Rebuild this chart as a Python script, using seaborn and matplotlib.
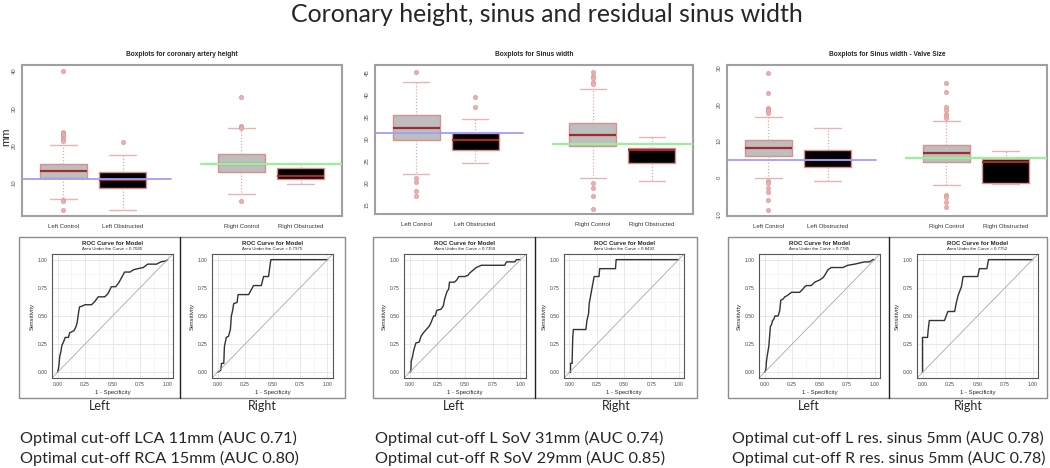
import numpy as np
import matplotlib
matplotlib.use("Agg")
import matplotlib.pyplot as plt
import seaborn as sns
import pandas as pd
from matplotlib.patches import Rectangle
from matplotlib.lines import Line2D

# ---------------- data ----------------
groups = ["Left Control", "Left Obstructed", "Right Control", "Right Obstructed"]
group_pos = [1, 2, 4, 5]

# coronary artery height (mm)
height_q1 = [11.2, 8.65, 12.95, 11.0]
height_med = [13.05, 10.6, 15.0, 11.7]
height_q3 = [14.85, 12.9, 17.55, 13.85]
height_lo = [5.7, 2.5, 6.85, 9.7]
height_hi = [20.0, 17.4, 24.55, 14.85]
height_fliers = [[40.0, 23.7, 23.4, 23.0, 22.6, 22.1, 21.6, 21.2, 5.3, 5.1, 2.7],
                 [20.8], [33.1, 25.2, 24.9, 24.7, 5.15], []]
height_cut = [11, 15]

# sinus width (mm)
sinus_q1 = [29.65, 27.4, 28.35, 24.4]
sinus_med = [32.4, 29.65, 30.85, 27.25]
sinus_q3 = [35.4, 31.25, 33.5, 27.85]
sinus_lo = [21.95, 24.4, 21.05, 20.2]
sinus_hi = [42.9, 34.3, 41.1, 30.25]
sinus_fliers = [[45.0, 21.0, 20.0, 18.0, 17.0], [37.1, 39.4],
                [45.1, 44.2, 43.6, 42.9, 42.3, 19.8, 18.6, 17.0, 13.9], []]
sinus_cut = [31.3, 28.7]

# sinus width - valve size (mm)
resid_q1 = [6.0, 3.0, 4.4, -1.6]
resid_med = [8.1, 4.9, 6.6, 4.2]
resid_q3 = [10.2, 7.6, 8.8, 5.1]
resid_lo = [0.0, -0.9, -2.0, -1.8]
resid_hi = [16.6, 13.6, 15.5, 7.4]
resid_fliers = [[28.7, 23.2, 19.1, 18.7, 18.4, 18.2, 17.8, -1.0, -1.5, -2.8, -3.9, -6.0, -8.9],
                [], [25.8, 23.5, 19.4, 18.4, 17.5, 16.9, 16.2, -4.8, -5.3, -6.7, -8.0], []]
resid_cut = [4.9, 5.4]

# ROC curves (1 - specificity, sensitivity)
roc1_left_fpr = [0, 0.01, 0.015, 0.02, 0.03, 0.04, 0.055, 0.07, 0.1, 0.11, 0.13, 0.15, 0.17, 0.18,
                 0.19, 0.2, 0.23, 0.25, 0.31, 0.34, 0.37, 0.43, 0.46, 0.49, 0.53, 0.56, 0.61, 0.66,
                 0.69, 0.73, 0.78, 0.82, 0.9, 0.94, 0.99, 1]
roc1_left_tpr = [0, 0.04, 0.08, 0.14, 0.18, 0.24, 0.27, 0.31, 0.31, 0.35, 0.36, 0.37, 0.41, 0.45,
                 0.52, 0.58, 0.59, 0.6, 0.6, 0.63, 0.67, 0.67, 0.7, 0.76, 0.76, 0.8, 0.89, 0.89,
                 0.91, 0.92, 0.93, 0.96, 0.96, 0.98, 0.99, 1]
roc1_right_fpr = [0, 0.03, 0.036, 0.057, 0.063, 0.08, 0.1, 0.117, 0.126, 0.138, 0.147, 0.178, 0.187,
                  0.283, 0.328, 0.398, 0.419, 0.464, 0.485, 1]
roc1_right_tpr = [0, 0.02, 0.08, 0.08, 0.23, 0.31, 0.32, 0.38, 0.5, 0.55, 0.61, 0.62, 0.69,
                  0.69, 0.77, 0.77, 0.85, 0.85, 1.0, 1]
roc2_left_fpr = [0, 0.012, 0.015, 0.027, 0.036, 0.048, 0.057, 0.088, 0.103, 0.124, 0.142, 0.178,
                 0.193, 0.217, 0.232, 0.245, 0.284, 0.305, 0.314, 0.335, 0.353, 0.36, 0.405, 0.426,
                 0.444, 0.496, 0.526, 0.541, 0.577, 0.601, 0.647, 0.662, 0.858, 0.873, 0.949, 0.964, 1]
roc2_left_tpr = [0, 0.01, 0.1, 0.14, 0.19, 0.23, 0.26, 0.27, 0.32, 0.35, 0.37, 0.41,
                 0.44, 0.5, 0.5, 0.55, 0.56, 0.59, 0.64, 0.71, 0.74, 0.8, 0.8, 0.82,
                 0.85, 0.85, 0.86, 0.88, 0.91, 0.93, 0.95, 0.95, 0.95, 0.98, 0.98, 1.0, 1]
roc2_right_fpr = [0, 0.01, 0.01, 0.024, 0.03, 0.036, 0.151, 0.16, 0.175, 0.181, 0.196, 0.211, 0.226,
                  0.271, 0.277, 0.422, 0.428, 1]
roc2_right_tpr = [0, 0, 0.08, 0.08, 0.31, 0.38, 0.38, 0.46, 0.52, 0.61, 0.69, 0.77, 0.85,
                  0.85, 0.92, 0.92, 1.0, 1]
roc3_left_fpr = [0, 0.012, 0.018, 0.027, 0.039, 0.054, 0.063, 0.073, 0.085, 0.094, 0.124, 0.139,
                 0.148, 0.169, 0.184, 0.205, 0.245, 0.32, 0.35, 0.366, 0.381, 0.426, 0.456, 0.502,
                 0.517, 0.532, 0.547, 0.577, 0.592, 0.607, 0.713, 0.758, 0.819, 0.909, 0.955, 0.985, 1]
roc3_left_tpr = [0, 0.02, 0.1, 0.16, 0.23, 0.41, 0.42, 0.46, 0.47, 0.5, 0.5, 0.55,
                 0.64, 0.65, 0.67, 0.68, 0.71, 0.71, 0.74, 0.76, 0.77, 0.77, 0.8, 0.82,
                 0.83, 0.84, 0.86, 0.91, 0.92, 0.93, 0.93, 0.95, 0.96, 0.98, 0.98, 1.0, 1]
roc3_right_fpr = [0, 0, 0.046, 0.052, 0.062, 0.2, 0.231, 0.292, 0.308, 0.323, 0.354, 0.369, 0.502,
                  0.517, 0.585, 0.6, 1]
roc3_right_tpr = [0, 0.31, 0.31, 0.38, 0.46, 0.46, 0.54, 0.54, 0.62, 0.68, 0.76, 0.85, 0.85,
                  0.92, 0.92, 1.0, 1]
roc_auc = ["0.7085", "0.7975", "0.7350", "0.8492", "0.7785", "0.7752"]

cutoff_text = [
    ["Optimal cut-off LCA 11mm (AUC 0.71)", "Optimal cut-off RCA 15mm (AUC 0.80)"],
    ["Optimal cut-off L SoV 31mm (AUC 0.74)", "Optimal cut-off R SoV 29mm (AUC 0.85)"],
    ["Optimal cut-off L res. sinus 5mm (AUC 0.78)", "Optimal cut-off R res. sinus 5mm (AUC 0.78)"],
]

# ---------------- drawing ----------------
sns.set_style("white")
plt.rcParams["font.family"] = ["Liberation Sans", "DejaVu Sans"]
big_font = ["Lato", "DejaVu Sans"]

W, H = 1050, 468
fig = plt.figure(figsize=(W / 100, H / 100), dpi=100)


def px_axes(x0, y0, x1, y1):
    # axes from pixel box (top-left origin)
    return fig.add_axes([x0 / W, 1 - y1 / H, (x1 - x0) / W, (y1 - y0) / H])


def boxpanel(box, title, q1, med, q3, lo, hi, fliers, cuts, ylim, yticks):
    ax = px_axes(*box)
    stats = []
    for i in range(4):
        stats.append(dict(med=med[i], q1=q1[i], q3=q3[i], whislo=lo[i], whishi=hi[i], fliers=fliers[i]))
    bp = ax.bxp(stats, positions=group_pos, widths=0.8, capwidths=0.45, patch_artist=True,
                showfliers=True)
    fills = ["#bebebe", "black", "#bebebe", "black"]
    for i, patch in enumerate(bp["boxes"]):
        patch.set_facecolor(fills[i])
        patch.set_edgecolor("#d89090")
        patch.set_linewidth(1.0)
    for m in bp["medians"]:
        m.set_color("#a52a2a")
        m.set_linewidth(1.6)
    for w in bp["whiskers"]:
        w.set_color("#e4a8a8")
        w.set_linestyle((0, (1, 1.5)))
        w.set_linewidth(0.9)
    for c in bp["caps"]:
        c.set_color("#e8b4b4")
        c.set_linewidth(1.0)
    for f in bp["fliers"]:
        f.set_marker("o")
        f.set_markersize(3)
        f.set_markerfacecolor("#eab0b0")
        f.set_markeredgecolor("#e09a9a")
        f.set_markeredgewidth(0.5)
    ax.axhline(cuts[0], xmin=0, xmax=0.465, color="#9e9eff", lw=1.3, zorder=5)
    ax.axhline(cuts[1], xmin=0.56, xmax=1, color="#98f098", lw=1.6, zorder=5)
    ax.set_xlim(0.3, 5.7)
    ax.set_ylim(*ylim)
    ax.set_xticks(group_pos)
    ax.set_xticklabels(groups, fontsize=4.3, color="#333333")
    ax.set_yticks(yticks)
    ax.set_yticklabels([str(t) for t in yticks], fontsize=4.3, rotation=90, va="center", color="#555555")
    ax.tick_params(length=2, width=0.5, color="#666666", pad=2)
    ax.tick_params(axis="x", pad=4)
    for s in ax.spines.values():
        s.set_color("#a0a0a0")
        s.set_linewidth(1.5)
    cx = (box[0] + box[2]) / 2 / W
    fig.text(cx, 1 - 55 / H, title, ha="center", va="center", fontsize=4.8, fontweight="bold")
    return ax


def rocpanel(box, fpr, tpr, auc):
    ax = px_axes(*box)
    sns.lineplot(x=fpr, y=tpr, ax=ax, sort=False, estimator=None, color="#333333", lw=1.0)
    ax.axline((0, 0), slope=1, color="#a8a8a8", lw=0.6)
    ax.set_xlim(-0.05, 1.05)
    ax.set_ylim(-0.05, 1.05)
    ticks = [0, 0.25, 0.5, 0.75, 1.0]
    ax.set_xticks(ticks)
    ax.set_yticks(ticks)
    ax.set_xticklabels(["0.00", "0.25", "0.50", "0.75", "1.00"], fontsize=3.6, color="#444444")
    ax.set_yticklabels(["0.00", "0.25", "0.50", "0.75", "1.00"], fontsize=3.6, color="#444444")
    ax.set_xticks([0.125, 0.375, 0.625, 0.875], minor=True)
    ax.set_yticks([0.125, 0.375, 0.625, 0.875], minor=True)
    ax.grid(True, which="major", color="#e4e4e4", lw=0.6)
    ax.grid(True, which="minor", color="#f0f0f0", lw=0.4)
    ax.tick_params(which="major", length=1.5, width=0.4, color="#555555", pad=1.5)
    ax.tick_params(which="minor", length=0)
    ax.set_xlabel("1 - Specificity", fontsize=4.2, labelpad=2)
    ax.set_ylabel("Sensitivity", fontsize=4.2, labelpad=2)
    for s in ax.spines.values():
        s.set_color("#555555")
        s.set_linewidth(0.8)
    cx = (box[0] + box[2]) / 2 / W
    fig.text(cx, 1 - 243 / H, "ROC Curve for Model", ha="center", va="center", fontsize=4.3,
             fontweight="bold")
    fig.text(cx, 1 - 249.5 / H, "Area Under the Curve = " + auc, ha="center", va="center", fontsize=3.2)
    return ax


boxpanel((22, 65, 342, 216), "Boxplots for coronary artery height", height_q1, height_med, height_q3,
         height_lo, height_hi, height_fliers, height_cut, (1.0, 41.6), [10, 20, 30, 40])
fig.text(6 / W, 1 - 137 / H, "mm", rotation=90, ha="center", va="center", fontsize=8)
boxpanel((375, 65, 693, 214), "Boxplots for Sinus width", sinus_q1, sinus_med, sinus_q3,
         sinus_lo, sinus_hi, sinus_fliers, sinus_cut, (12.8, 46.65), [15, 20, 25, 30, 35, 40, 45])
boxpanel((727, 65, 1047, 216), "Boxplots for Sinus width - Valve Size", resid_q1, resid_med, resid_q3,
         resid_lo, resid_hi, resid_fliers, resid_cut, (-10.5, 30.8), [-10, 0, 10, 20, 30])

roc_boxes = [(52, 254, 173, 378), (212, 254, 333, 378),
             (404, 254, 526, 378), (564, 254, 684, 378),
             (759, 254, 880, 378), (917, 254, 1038, 378)]
roc_data = [(roc1_left_fpr, roc1_left_tpr), (roc1_right_fpr, roc1_right_tpr),
            (roc2_left_fpr, roc2_left_tpr), (roc2_right_fpr, roc2_right_tpr),
            (roc3_left_fpr, roc3_left_tpr), (roc3_right_fpr, roc3_right_tpr)]
for i in range(6):
    rocpanel(roc_boxes[i], roc_data[i][0], roc_data[i][1], roc_auc[i])

# frames round each left/right pair
frames = [(19, 180, 345), (373, 535, 697), (728, 889, 1047)]
for (x0, xm, x1) in frames:
    fig.patches.append(Rectangle((x0 / W, 1 - 398 / H), (x1 - x0) / W, 161 / H, transform=fig.transFigure,
                                 fill=False, edgecolor="#8c8c8c", lw=1.0))
    fig.add_artist(Line2D([xm / W, xm / W], [1 - 398 / H, 1 - 237 / H], transform=fig.transFigure,
                          color="#222222", lw=1.0))
    fig.text((x0 + xm) / 2 / W, 1 - 406 / H, "Left", ha="center", va="center", fontsize=9,
             family=big_font)
    fig.text((xm + x1) / 2 / W, 1 - 406 / H, "Right", ha="center", va="center", fontsize=9,
             family=big_font)

# cut-off captions; the last pair is shrunk so it stays inside the figure
text_x = [20, 375, 732]
max_w = [300, 320, 312]
renderer = fig.canvas.get_renderer()
for i in range(3):
    for j, ypix in enumerate([438, 458]):
        t = fig.text(text_x[i] / W, 1 - ypix / H, cutoff_text[i][j], ha="left", va="center",
                     fontsize=11.7, family=big_font)
        w = t.get_window_extent(renderer).width
        if w > max_w[i]:
            t.set_fontsize(11.7 * max_w[i] / w)

fig.text(547 / W, 1 - 14 / H, "Coronary height, sinus and residual sinus width", ha="center", va="center",
         fontsize=17.9, family=big_font)

fig.savefig("out.png", dpi=100)
